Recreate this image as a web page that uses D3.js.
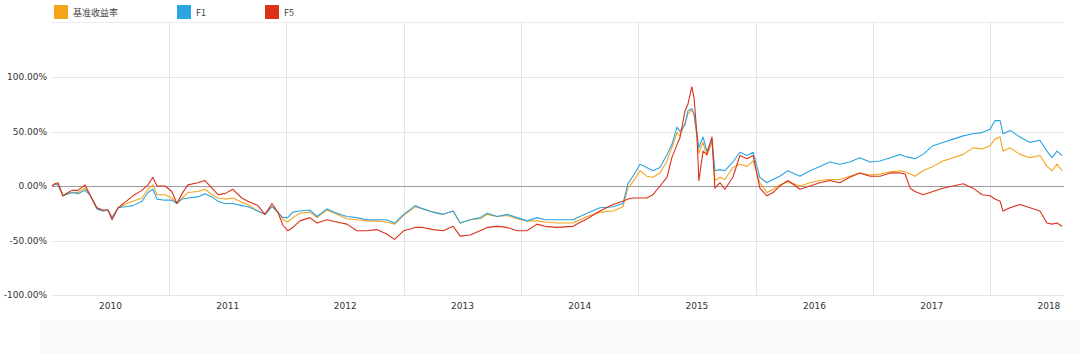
<!DOCTYPE html>
<html>
<head>
<meta charset="utf-8">
<script src="https://cdn.jsdelivr.net/npm/d3@7"></script>
<style>
  body { margin: 0; background: #fff; }
  svg { display: block; }
</style>
</head>
<body>
<div id="chart"></div>
<script>
// datos (rentabilidad acumulada, %)
const fechas = [
  "2010-01-01","2010-01-10","2010-01-20","2010-02-04","2010-02-20","2010-03-04","2010-03-23","2010-04-14","2010-04-29","2010-05-21",
  "2010-06-09","2010-06-24","2010-07-07","2010-07-26","2010-08-16","2010-09-10","2010-10-08","2010-10-27","2010-11-11","2010-11-24",
  "2010-12-19","2011-01-09","2011-01-25","2011-02-10","2011-02-28","2011-03-31","2011-04-22","2011-05-14","2011-06-02","2011-06-23",
  "2011-07-18","2011-08-15","2011-09-03","2011-10-04","2011-10-26","2011-11-17","2011-12-05","2011-12-21","2012-01-05","2012-01-21",
  "2012-02-12","2012-03-14","2012-04-05","2012-05-06","2012-06-06","2012-07-07","2012-08-07","2012-09-07","2012-10-08","2012-11-08",
  "2012-12-03","2012-12-31","2013-02-05","2013-03-01","2013-04-02","2013-05-03","2013-06-03","2013-06-25","2013-07-26","2013-08-26",
  "2013-09-17","2013-10-18","2013-11-18","2013-12-19","2014-01-19","2014-02-19","2014-03-16","2014-04-22","2014-06-11","2014-07-25",
  "2014-09-03","2014-10-14","2014-11-14","2014-11-29","2014-12-15","2015-01-06","2015-01-27","2015-02-15","2015-03-09","2015-03-31",
  "2015-04-15","2015-05-01","2015-05-10","2015-05-26","2015-06-04","2015-06-16","2015-06-23","2015-07-02","2015-07-08","2015-07-21",
  "2015-08-02","2015-08-18","2015-08-27","2015-09-12","2015-09-27","2015-10-22","2015-11-13","2015-12-05","2015-12-24","2016-01-14",
  "2016-02-05","2016-02-24","2016-03-16","2016-04-10","2016-05-18","2016-06-18","2016-07-19","2016-08-19","2016-09-19","2016-10-20",
  "2016-11-20","2016-12-22","2017-01-22","2017-02-23","2017-03-26","2017-04-10","2017-04-26","2017-05-11","2017-06-05","2017-07-06",
  "2017-08-06","2017-09-07","2017-10-08","2017-11-08","2017-12-06","2017-12-31","2018-01-15","2018-01-31","2018-02-09","2018-03-03",
  "2018-04-03","2018-05-04","2018-06-04","2018-06-26","2018-07-12","2018-07-27","2018-08-12"
];

const benchmark = [
  0,2,1,-9,-7,-6,-6,-2,-8,-21,
  -23,-22,-29,-20,-17,-14,-11,-3,1,-8,
  -8,-11,-16,-11,-6,-5,-3,-8,-11,-12,
  -11,-15,-17,-23,-26,-19,-24,-31,-33,-29,
  -25,-24,-29,-22,-26,-30,-31,-32,-32,-33,
  -35,-27,-19,-21,-24,-26,-23,-34,-31,-30,
  -26,-28,-27,-30,-32,-32,-33,-34,-34,-28,
  -24,-23,-19,-2,4,14,9,8,12,23,
  35,49,46,58,66,70,66,44,30,40,
  28,40,5,8,6,17,20,18,23,3,
  -6,-3,1,4,0,3,5,6,6,9,
  12,10,11,13,14,13,11,9,14,18,
  23,26,29,35,34,37,43,45,32,35,
  29,26,28,18,14,20,14
];

const f1 = [
  0,2,1,-9,-7,-6,-7,-4,-8,-21,
  -23,-22,-29,-20,-19,-18,-14,-6,-3,-12,
  -13,-13,-16,-12,-11,-10,-7,-10,-14,-16,
  -16,-18,-19,-23,-26,-19,-24,-29,-29,-24,
  -23,-22,-28,-21,-25,-28,-29,-31,-31,-31,
  -34,-26,-18,-21,-24,-26,-23,-34,-31,-29,
  -25,-28,-26,-29,-32,-29,-31,-31,-31,-25,
  -20,-19,-16,2,9,20,17,14,17,29,
  38,54,50,56,69,71,66,48,35,45,
  32,43,14,15,14,22,31,28,31,8,
  3,6,9,14,9,14,18,22,20,22,
  26,22,23,26,29,27,26,25,29,37,
  40,43,46,48,49,52,60,60,48,51,
  45,40,42,32,26,32,28
];

const f5 = [
  0,2,3,-9,-6,-4,-4,1,-8,-20,
  -22,-22,-31,-20,-15,-9,-4,1,8,0,
  0,-5,-16,-7,1,3,5,-2,-8,-7,
  -3,-11,-14,-18,-26,-16,-24,-36,-41,-38,
  -32,-29,-34,-31,-33,-35,-41,-41,-40,-44,
  -49,-41,-38,-38,-40,-41,-37,-46,-45,-41,
  -38,-37,-38,-41,-41,-35,-37,-38,-37,-30,
  -23,-17,-14,-12,-11,-11,-11,-8,0,8,
  26,38,44,69,75,91,81,48,5,32,
  29,45,-2,3,-3,8,28,25,28,-2,
  -9,-6,0,5,-3,0,3,5,3,8,
  12,9,9,12,12,11,-2,-5,-8,-5,
  -2,0,2,-2,-8,-9,-12,-14,-23,-20,
  -17,-20,-23,-34,-35,-34,-37
];

const series = [
  { nombre: "基准收益率", valores: benchmark, color: "#f6a31c" },
  { nombre: "F1", valores: f1, color: "#2ba4e2" },
  { nombre: "F5", valores: f5, color: "#dc3218" }
];

const yTicks = [-100, -50, 0, 50, 100];
const years = ["2010", "2011", "2012", "2013", "2014", "2015", "2016", "2017", "2018"];

const WIDTH = 1080;
const HEIGHT = 354;
const parse = d3.timeParse("%Y-%m-%d");
const FONT = "'DejaVu Sans', Verdana, sans-serif";

const SVG = d3.select("#chart").append("svg")
  .attr("width", WIDTH)
  .attr("height", HEIGHT);

// escalas
const x = d3.scaleTime()
  .domain([parse("2010-01-01"), parse("2018-08-18")])
  .range([52, 1064]);

const y = d3.scaleLinear()
  .domain([-100, 100])
  .range([295, 77]);

// franja inferior (navegador)
SVG.append("rect")
  .attr("x", 40).attr("y", 320)
  .attr("width", WIDTH - 40).attr("height", HEIGHT - 320)
  .attr("fill", "#faf9fb");

// línea superior
SVG.append("line")
  .attr("x1", 52).attr("x2", 1064)
  .attr("y1", y(150)).attr("y2", y(150))
  .attr("stroke", "#ececec");

// rejilla vertical (inicio de cada año)
const yearStarts = years.slice(1).map(a => parse(a + "-01-01"));
SVG.selectAll(".vgrid")
  .data(yearStarts)
  .enter()
  .append("line")
  .attr("class", "vgrid")
  .attr("x1", d => Math.round(x(d)) + 0.5)
  .attr("x2", d => Math.round(x(d)) + 0.5)
  .attr("y1", y(150))
  .attr("y2", 296)
  .attr("stroke", "#e3e3e3");

// rejilla horizontal
SVG.selectAll(".hgrid")
  .data(yTicks)
  .enter()
  .append("line")
  .attr("class", "hgrid")
  .attr("x1", 52).attr("x2", 1064)
  .attr("y1", d => Math.round(y(d)) + 0.5)
  .attr("y2", d => Math.round(y(d)) + 0.5)
  .attr("stroke", d => d === 0 ? "#9a9a9a" : "#e6e6e6");

// etiquetas eje y
SVG.selectAll(".ylab")
  .data(yTicks)
  .enter()
  .append("text")
  .attr("class", "ylab")
  .attr("x", 47)
  .attr("y", d => y(d) + 3)
  .attr("text-anchor", "end")
  .attr("font-family", FONT)
  .attr("font-size", "9px")
  .attr("fill", "#333")
  .text(d => d.toFixed(2) + "%");

// etiquetas de año, centradas en cada año
SVG.selectAll(".xlab")
  .data(years)
  .enter()
  .append("text")
  .attr("class", "xlab")
  .attr("x", a => x(parse(a + "-07-02")))
  .attr("y", 309)
  .attr("text-anchor", "middle")
  .attr("font-family", FONT)
  .attr("font-size", "9px")
  .attr("fill", "#333")
  .text(a => a);

// líneas
const fechasParse = fechas.map(parse);
const linea = d3.line()
  .x((d, i) => x(fechasParse[i]))
  .y(d => y(d));

SVG.selectAll(".serie")
  .data(series)
  .enter()
  .append("path")
  .attr("class", "serie")
  .attr("d", s => linea(s.valores))
  .attr("fill", "none")
  .attr("stroke", s => s.color)
  .attr("stroke-width", 1.1)
  .attr("stroke-linejoin", "round");

// leyenda
const leyendaX = [54, 177, 265];
const leyenda = SVG.selectAll(".leyenda")
  .data(series)
  .enter()
  .append("g")
  .attr("class", "leyenda")
  .attr("transform", (d, i) => `translate(${leyendaX[i]}, 5)`);

leyenda.append("rect")
  .attr("width", 14)
  .attr("height", 14)
  .attr("fill", d => d.color);

leyenda.append("text")
  .attr("x", 19)
  .attr("y", 11)
  .attr("font-family", "'Noto Sans CJK SC', " + FONT)
  .attr("font-size", "9px")
  .attr("fill", "#444")
  .text(d => d.nombre);
</script>
</body>
</html>
